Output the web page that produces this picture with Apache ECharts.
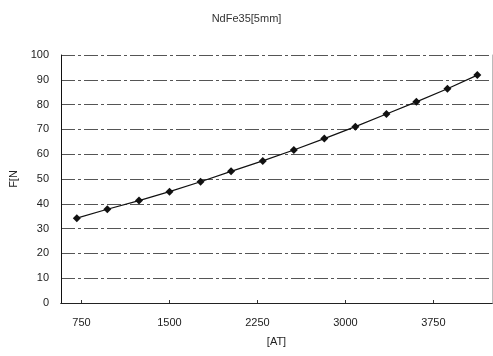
<!DOCTYPE html>
<html>
<head>
<meta charset="utf-8">
<script src="https://cdn.jsdelivr.net/npm/echarts@6/dist/echarts.min.js"></script>
<style>
  html, body { margin: 0; padding: 0; background: #fff; }
  #chart { width: 493px; height: 356px; }
</style>
</head>
<body>
<div id="chart"></div>
<script>
// ampere-turns vs force
const currentAT = [710, 970, 1240, 1500, 1765, 2025, 2295, 2560, 2820, 3085, 3350, 3605, 3870, 4125]
const forceN = [34.2, 37.8, 41.3, 44.9, 48.9, 53.1, 57.3, 61.7, 66.3, 71.1, 76.2, 81.1, 86.4, 91.9]
const xTicks = [750, 1500, 2250, 3000, 3750]

const chart = echarts.init(document.getElementById('chart'))

const font = 'Liberation Sans, Arial, sans-serif'

const option = {
  animation: false,
  backgroundColor: '#fff',
  title: {
    text: 'NdFe35[5mm]',
    left: 'center',
    top: 8,
    textStyle: { fontSize: 11, fontWeight: 'normal', color: '#333', fontFamily: font }
  },
  grid: { left: 57, right: 1, top: 55, bottom: 53 },
  xAxis: [
    {
      type: 'value',
      min: 575,
      max: 4250,
      name: '[AT]',
      nameLocation: 'middle',
      nameGap: 33,
      nameTextStyle: { fontSize: 11, color: '#222', fontFamily: font },
      axisLine: { show: true, lineStyle: { color: '#111', width: 1 } },
      axisTick: {
        show: true,
        inside: true,
        length: 3,
        customValues: xTicks,
        lineStyle: { color: '#333' }
      },
      axisLabel: {
        customValues: xTicks,
        margin: 14,
        fontSize: 11,
        color: '#222',
        fontFamily: font,
        formatter: (v) => String(v)
      },
      splitLine: { show: false }
    },
    {
      // top frame line
      type: 'value',
      position: 'top',
      min: 575,
      max: 4250,
      axisLine: { show: true, lineStyle: { color: '#222', width: 1 } },
      axisTick: { show: false },
      axisLabel: { show: false },
      splitLine: { show: false }
    }
  ],
  yAxis: [
    {
      type: 'value',
      min: 0,
      max: 100,
      interval: 10,
      name: 'F[N',
      nameLocation: 'middle',
      nameGap: 42,
      nameRotate: 90,
      nameTextStyle: { fontSize: 11, color: '#222', fontFamily: font },
      axisLine: { show: true, lineStyle: { color: '#111', width: 1 } },
      axisTick: { show: false },
      axisLabel: { margin: 12, fontSize: 11, color: '#222', fontFamily: font },
      splitLine: {
        show: true,
        lineStyle: { color: '#555', width: 1, type: [14, 3, 3, 3] }
      }
    },
    {
      // faint right edge
      type: 'value',
      position: 'right',
      min: 0,
      max: 100,
      axisLine: { show: true, lineStyle: { color: '#bbb', width: 1 } },
      axisTick: { show: false },
      axisLabel: { show: false },
      splitLine: { show: false }
    }
  ],
  series: [
    {
      type: 'line',
      data: currentAT.map((x, i) => [x, forceN[i]]),
      symbol: 'diamond',
      symbolSize: 8,
      lineStyle: { color: '#111', width: 1.2 },
      itemStyle: { color: '#111' }
    }
  ]
}

chart.setOption(option)
</script>
</body>
</html>
